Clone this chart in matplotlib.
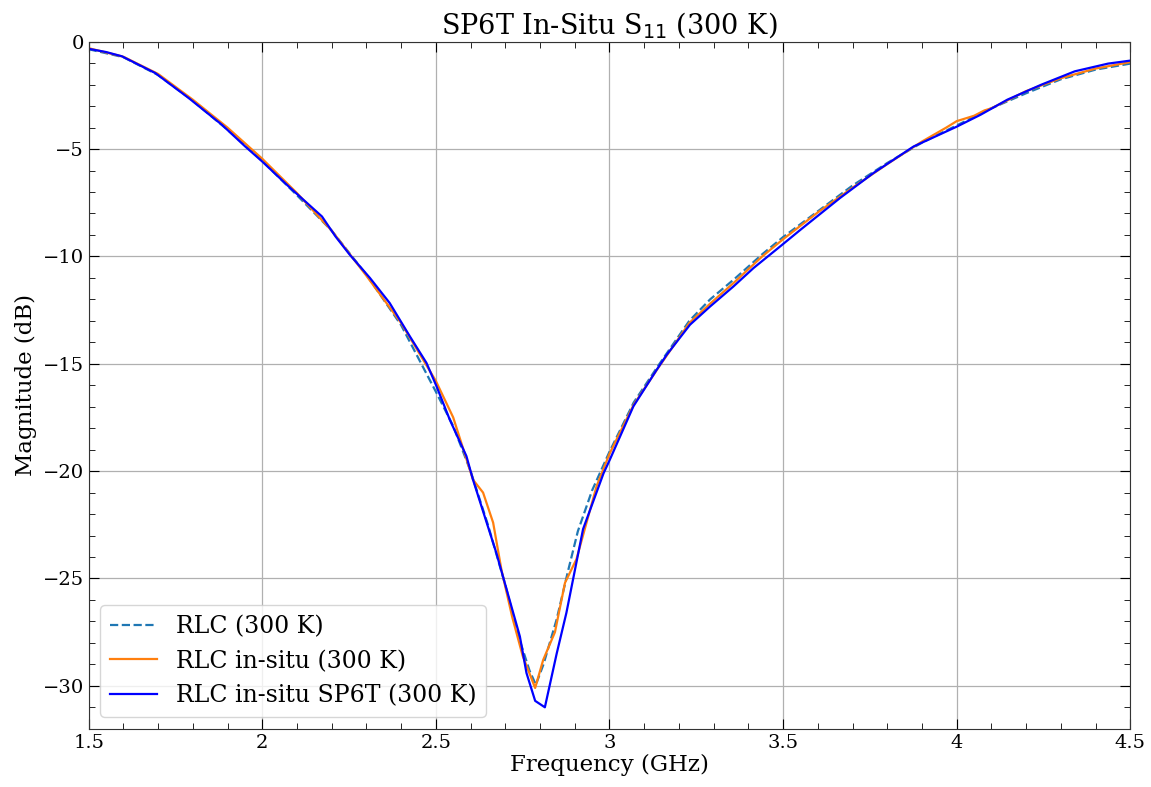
import numpy as np
import matplotlib
matplotlib.use("Agg")
import matplotlib.pyplot as plt
from matplotlib.ticker import MultipleLocator, FuncFormatter

# RLC model (300 K)
f_rlc = [1.5, 1.6, 1.7, 1.8, 1.9, 2.0, 2.1, 2.2, 2.3, 2.4, 2.5, 2.55, 2.6, 2.65, 2.7, 2.74,
         2.77, 2.788, 2.81, 2.848, 2.88, 2.909, 2.95, 3.0, 3.07, 3.14, 3.23, 3.29, 3.36, 3.44,
         3.5, 3.6, 3.7, 3.8, 3.9, 4.0, 4.1, 4.2, 4.3, 4.4, 4.5]
s_rlc = [-0.35, -0.72, -1.55, -2.75, -4.1, -5.55, -7.15, -8.8, -10.85, -13.2, -16.3, -17.9,
         -20.0, -22.5, -25.3, -27.8, -29.3, -29.95, -29.0, -26.9, -24.7, -22.8, -20.9, -19.1,
         -16.8, -15.1, -13.0, -12.0, -11.05, -9.9, -9.1, -7.9, -6.7, -5.65, -4.7, -3.9, -3.1,
         -2.4, -1.75, -1.3, -1.02]

# RLC in-situ (300 K)
f_insitu = [1.5, 1.6, 1.7, 1.8, 1.9, 2.0, 2.1, 2.2, 2.3, 2.4, 2.5, 2.55, 2.607, 2.636, 2.665,
            2.689, 2.72, 2.75, 2.786, 2.809, 2.843, 2.872, 2.905, 2.963, 3.0, 3.07, 3.14, 3.2,
            3.23, 3.29, 3.36, 3.44, 3.5, 3.6, 3.7, 3.8, 3.9, 3.97, 4.0, 4.05, 4.08, 4.1, 4.2,
            4.3, 4.4, 4.5]
s_insitu = [-0.3, -0.7, -1.5, -2.7, -4.0, -5.45, -7.05, -8.8, -10.9, -13.1, -15.8, -17.5,
            -20.4, -21.0, -22.4, -24.6, -26.8, -28.6, -30.1, -28.8, -27.5, -25.2, -24.1, -20.7,
            -19.2, -16.9, -15.2, -13.8, -13.1, -12.2, -11.2, -10.0, -9.2, -7.95, -6.8, -5.7,
            -4.65, -4.0, -3.7, -3.45, -3.2, -3.1, -2.3, -1.7, -1.25, -0.95]

# RLC in-situ SP6T (300 K)
f_sp6t = [1.5, 1.55, 1.596, 1.692, 1.788, 1.884, 1.951, 2.0, 2.076, 2.172, 2.211, 2.252, 2.31,
          2.367, 2.425, 2.473, 2.502, 2.54, 2.588, 2.607, 2.674, 2.742, 2.761, 2.786, 2.814,
          2.848, 2.876, 2.924, 2.983, 3.001, 3.069, 3.136, 3.165, 3.232, 3.29, 3.357, 3.415,
          3.492, 3.55, 3.664, 3.76, 3.876, 4.001, 4.069, 4.146, 4.244, 4.34, 4.436, 4.5]
s_sp6t = [-0.33, -0.48, -0.68, -1.46, -2.62, -3.87, -4.88, -5.58, -6.74, -8.14, -9.07, -9.92,
          -11.0, -12.17, -13.72, -14.96, -16.05, -17.6, -19.3, -20.4, -23.8, -27.7, -29.4,
          -30.7, -31.0, -28.5, -26.6, -22.7, -20.1, -19.47, -16.98, -15.28, -14.58, -13.18,
          -12.33, -11.4, -10.54, -9.53, -8.76, -7.28, -6.12, -4.88, -3.95, -3.4, -2.7, -2.0,
          -1.38, -1.02, -0.88]

plt.rcParams['font.family'] = 'DejaVu Serif'
plt.rcParams['mathtext.fontset'] = 'dejavusans'

fig, ax = plt.subplots(figsize=(11.51, 7.87), dpi=100)
fig.subplots_adjust(left=0.077, right=0.982, top=0.947, bottom=0.074)

ax.plot(f_rlc, s_rlc, '--', color='#1f77b4', lw=1.6, label='RLC (300 K)')
ax.plot(f_insitu, s_insitu, '-', color='#ff7f0e', lw=1.6, label='RLC in-situ (300 K)')
ax.plot(f_sp6t, s_sp6t, '-', color='blue', lw=1.6, label='RLC in-situ SP6T (300 K)')

ax.set_xlim(1.5, 4.5)
ax.set_ylim(-32, 0)
ax.xaxis.set_major_locator(MultipleLocator(0.5))
ax.xaxis.set_minor_locator(MultipleLocator(0.1))
ax.yaxis.set_major_locator(MultipleLocator(5))
ax.yaxis.set_minor_locator(MultipleLocator(1))

fmt = FuncFormatter(lambda v, p: ('%g' % v).replace('-', '\u2212'))
ax.xaxis.set_major_formatter(fmt)
ax.yaxis.set_major_formatter(fmt)

ax.tick_params(which='both', direction='in', top=True, right=True, labelsize=14)
ax.tick_params(which='major', length=7)
ax.tick_params(which='minor', length=4)
ax.grid(True, which='major', color='#b0b0b0', lw=0.9)
for s in ax.spines.values():
    s.set_color('#333333')

ax.set_xlabel('Frequency (GHz)', fontsize=16.5, labelpad=2)
ax.set_ylabel('Magnitude (dB)', fontsize=16.5)
ax.set_title('SP6T In-Situ S$_{11}$ (300 K)', fontsize=19.5)
ax.legend(loc='lower left', fontsize=17)

fig.savefig('out.png', dpi=100)
